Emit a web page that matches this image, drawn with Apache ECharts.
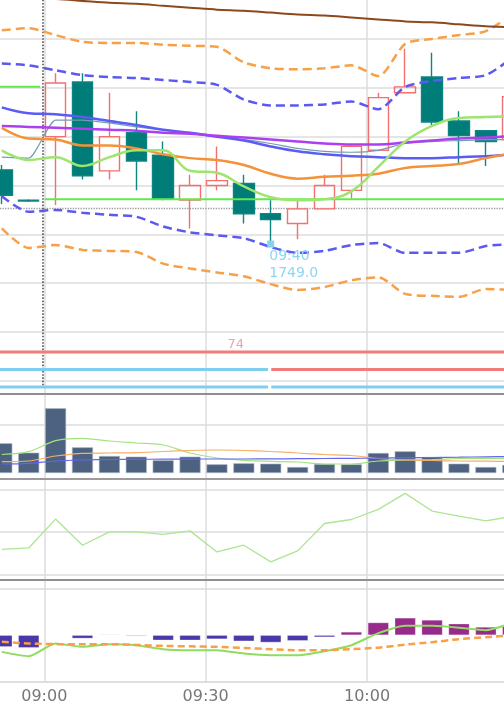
<!DOCTYPE html>
<html><head><meta charset="utf-8">
<script src="https://cdn.jsdelivr.net/npm/echarts@6/dist/echarts.min.js"></script>
<style>html,body{margin:0;padding:0;background:#fff}#c{width:504px;height:716px}</style>
</head><body><div id="c"></div>
<script>
// ---------- data ----------
const times = ['08:50','08:55','09:00','09:05','09:10','09:15','09:20','09:25','09:30','09:35','09:40','09:45','09:50','09:55','10:00','10:05','10:10','10:15','10:20','10:25'];
const open  = [1756.6,1753.5,1760.0,1765.6,1756.5,1760.4,1758.1,1753.5,1755.0,1755.2,1752.1,1751.1,1752.6,1754.5,1758.6,1764.5,1766.1,1761.6,1760.6,1759.7];
const close = [1754.0,1753.4,1765.5,1756.0,1760.0,1757.5,1753.6,1755.0,1755.5,1752.1,1751.5,1752.6,1755.0,1759.0,1764.0,1765.1,1761.5,1760.1,1759.5,1764.1];
const low   = [1753.1,1753.3,1753.0,1755.6,1755.6,1754.5,1753.5,1750.6,1754.5,1751.1,1749.0,1749.5,1752.6,1753.7,1758.5,1764.5,1761.0,1757.1,1757.0,1759.6];
const high  = [1757.1,1753.6,1766.5,1766.5,1764.5,1762.6,1759.5,1756.1,1759.0,1756.1,1753.5,1753.6,1756.1,1759.1,1764.5,1769.0,1768.6,1762.6,1760.6,1764.3];

const maLong    = [1774.4,1774.2,1774.1,1773.9,1773.7,1773.6,1773.4,1773.2,1773.0,1772.9,1772.7,1772.5,1772.4,1772.2,1772.0,1771.8,1771.7,1771.5,1771.3,1771.2];
const bbUpper2  = [1770.9,1771.1,1770.4,1769.7,1769.6,1769.6,1769.4,1769.3,1769.2,1767.6,1767.0,1766.9,1767.0,1767.3,1766.2,1769.5,1770.0,1770.4,1770.8,1772.6];
const bbUpper1  = [1767.5,1767.3,1766.8,1766.3,1766.1,1766.0,1765.8,1765.6,1765.3,1763.8,1763.2,1763.2,1763.3,1763.6,1762.8,1765.1,1765.7,1766.0,1766.3,1768.1];
const bbLower1  = [1753.9,1752.3,1752.5,1752.2,1752.0,1751.8,1750.8,1750.2,1749.9,1749.6,1748.7,1748.1,1748.3,1748.9,1749.1,1748.1,1748.1,1748.1,1748.8,1749.0];
const bbLower2  = [1750.6,1748.6,1748.9,1748.4,1748.3,1748.2,1747.0,1746.5,1746.1,1745.7,1744.9,1744.3,1744.6,1745.3,1745.6,1743.9,1743.7,1743.6,1744.4,1744.3];
const maBlue    = [1763.0,1762.4,1762.3,1762.0,1761.6,1761.2,1760.7,1760.4,1760.0,1759.6,1759.0,1758.5,1758.2,1758.0,1757.9,1757.8,1757.8,1757.9,1758.0,1758.2];
const maPurple  = [1761.1,1761.0,1760.9,1760.8,1760.7,1760.6,1760.4,1760.3,1760.1,1759.9,1759.7,1759.5,1759.3,1759.2,1759.2,1759.4,1759.6,1759.8,1759.9,1760.1];
const baseLine  = [1757.9,1757.8,1761.7,1761.7,1761.4,1761.0,1760.7,1760.3,1760.0,1759.7,1759.3,1758.8,1758.5,1758.4,1758.6,1759.3,1759.5,1759.6,1759.7,1759.7];
const maOrange  = [1760.9,1759.8,1759.7,1759.1,1759.1,1758.8,1758.2,1757.8,1757.6,1757.1,1756.2,1755.7,1755.9,1756.0,1756.2,1756.8,1757.0,1757.2,1757.8,1758.3];
const maGreen   = [1758.6,1757.6,1757.9,1757.0,1757.9,1758.6,1758.6,1756.5,1756.3,1754.9,1753.8,1753.5,1753.6,1754.4,1756.9,1759.5,1761.1,1761.9,1762.0,1762.1];

const priceTicks = [1735,1740,1745,1750,1755,1760,1765,1770];
const refPrice = 1752.7;
const sessionStart = '09:00';
const prevSessionLevel = 1765.1;
const sessionLevel = 1753.6;

const signalRow1 = ['sell'];
const signalRow2 = ['buy','sell'];
const signalRow3 = ['buy','buy'];
const signalBreak = '09:41:54';
const signalLabel = '74';
const signalLabelAt = '09:35:36';

const volume = [619,423,1348,535,354,340,265,340,181,202,194,125,188,181,417,452,333,194,125,167];
const volMaShort = [385,444,673,723,667,625,583,417,313,265,244,229,188,188,250,271,281,302,306,306];
const volMaMid   = [235,250,354,410,417,423,448,469,479,469,448,417,385,365,302,271,260,250,246,240];
const volMaLong  = [188,202,250,271,281,285,288,290,292,292,294,298,302,306,310,317,323,329,338,344];
const volTicks = [1000];

const rsi = [41.8,42.5,56.2,43.8,50.1,50.1,48.9,50.6,40.6,43.8,35.9,41.1,54.1,56.0,60.8,68.4,60.0,57.6,55.4,57.5];
const rsiTicks = [30,50,70];

const macdHist = [-0.25,-0.27,0,-0.07,0.015,-0.02,-0.11,-0.11,-0.085,-0.13,-0.156,-0.12,-0.043,0.07,0.27,0.37,0.325,0.245,0.175,0.19];
const macdLine = [-0.357,-0.449,-0.177,-0.25,-0.192,-0.214,-0.299,-0.321,-0.321,-0.391,-0.427,-0.427,-0.342,-0.214,0.043,0.203,0.199,0.16,0.107,0.267];
const macdSignal = [-0.143,-0.177,-0.192,-0.192,-0.192,-0.209,-0.229,-0.239,-0.25,-0.274,-0.299,-0.321,-0.321,-0.299,-0.267,-0.203,-0.15,-0.085,-0.043,0];
const macdTicks = [1];

// ---------- helpers ----------
function toMin(s){const p=s.split(':');return (+p[0])*60+(+p[1])+(p[2]?(+p[2])/60:0);}
function fmt(m){const h=Math.floor(m/60),mm=Math.round(m-h*60);return String(h).padStart(2,'0')+':'+String(mm).padStart(2,'0');}
const X_MIN = toMin('08:30'), X_MAX = toMin('10:30');
const CANDLE_OFFSET = 2.1;
const xs = times.map(t=>toMin(t)+CANDLE_OFFSET);
const pair = arr => arr.map((v,i)=>[xs[i],v]);
const FONT = 'DejaVu Sans';
const GRIDC = '#dcdcdc';
let minIdx = 0; low.forEach((v,i)=>{ if(v<low[minIdx]) minIdx=i; });

const L = -117.05, W = 645.4;
const G = {left:L,width:W,containLabel:false,outerBoundsMode:'none'};
const grids = [
  Object.assign({top:-9.86,height:403.86},G),
  Object.assign({top:338,height:56},G),
  Object.assign({top:394,height:85},G),
  Object.assign({top:479,height:100.5},G),
  Object.assign({top:579.5,height:102.5},G)
];
function xAx(i,extra){
  return Object.assign({type:'value',gridIndex:i,min:X_MIN,max:X_MAX,interval:30,
    axisLabel:{show:false},axisTick:{show:false},axisLine:{show:false},
    splitLine:{show:true,lineStyle:{color:GRIDC,width:1.5}}},extra||{});
}
const xAxes = [
  xAx(0,{axisLine:{show:true,onZero:false,lineStyle:{color:'#8f8f8f',width:2}}}),
  xAx(1,{show:false}),
  xAx(2,{axisLine:{show:true,onZero:false,lineStyle:{color:'#9c9c9c',width:2}}}),
  xAx(3,{axisLine:{show:true,onZero:false,lineStyle:{color:'#8f8f8f',width:2}}}),
  xAx(4,{axisLine:{show:true,onZero:false,lineStyle:{color:'#d4d4d4',width:1.5}},
    axisLabel:{show:true,formatter:v=>fmt(v),fontSize:16,fontFamily:FONT,color:'#777',margin:7}})
];
const yAxes = [
  {type:'value',gridIndex:0,min:1733.65,max:1775,show:false},
  {type:'value',gridIndex:1,min:0.6,max:3.8,show:false},
  {type:'value',gridIndex:2,min:-125,max:1646,show:false},
  {type:'value',gridIndex:3,min:27.53,max:75.22,show:false},
  {type:'value',gridIndex:4,min:-1,max:1.188,show:false}
];
function gridMarks(levels, extra){
  return {silent:true,symbol:['none','none'],z:1,animation:false,label:{show:false},
    lineStyle:{color:GRIDC,width:1.5,type:'solid'},
    data: levels.map(v=>({yAxis:v})).concat(extra||[])};
}
function line(gi,name,arr,color,width,dash,smooth,extra){
  return Object.assign({name,type:'line',xAxisIndex:gi,yAxisIndex:gi,data:pair(arr),showSymbol:false,symbol:'none',
    smooth:smooth||false,silent:true,lineStyle:{color,width,type:dash?dash:'solid'}},extra||{});
}
function seg(gi,a,b,v,color,width){
  return {type:'line',xAxisIndex:gi,yAxisIndex:gi,data:[[a,v],[b,v]],showSymbol:false,symbol:'none',silent:true,
    lineStyle:{color,width}};
}

const sepX = toMin(sessionStart)-0.37;
const series = [];

// candles
series.push({
  type:'candlestick',xAxisIndex:0,yAxisIndex:0,barWidth:21,
  data: times.map((t,i)=>[xs[i],open[i],close[i],low[i],high[i]]),
  itemStyle:{color:'rgba(255,255,255,0)',color0:'#007c79',borderColor:'#f46f6f',borderColor0:'#0f8482',borderWidth:1.4},
  markPoint:{symbol:'rect',symbolSize:7,itemStyle:{color:'#86d0f0'},
    label:{show:true,position:[2,8],align:'left',verticalAlign:'top',color:'#8fd5f3',fontSize:14,fontFamily:FONT,lineHeight:16.5,
      formatter:()=>times[minIdx]+'\n'+low[minIdx].toFixed(1)},
    data:[{type:'min',valueDim:'lowest'}]}
});

// session level steps
const s0 = toMin(sessionStart);
series.push(seg(0,X_MIN,s0-0.8,prevSessionLevel,'#62ea4c',2));
series.push(seg(0,s0+0.1,X_MAX,sessionLevel,'#62ea4c',2));

// bands and MAs
const DASH=[9,5];
series.push(line(0,'bbU2',bbUpper2,'#f7a048',2.5,DASH,0.25));
series.push(line(0,'bbL2',bbLower2,'#f7a048',2.5,DASH,0.25));
series.push(line(0,'bbU1',bbUpper1,'#5a5af2',2.5,DASH,0.25));
series.push(line(0,'bbL1',bbLower1,'#5a5af2',2.5,DASH,0.25));
series.push(line(0,'maLong',maLong,'#8b4a1c',2,null,0.3,{
  markLine: gridMarks(priceTicks,[
    {yAxis:refPrice,lineStyle:{color:'#9a9a9a',type:'dotted',width:1.3}},
    [{coord:[sepX,1775],lineStyle:{color:'#555',type:'dotted',width:1.6}},{coord:[sepX,1734.55],lineStyle:{color:'#555',type:'dotted',width:1.6}}]
  ])}));
series.push(line(0,'base',baseLine,'#6f9fb3',1.2,null,0.2));
series.push(line(0,'maBlue',maBlue,'#5b5cf3',2.5,null,0.4));
series.push(line(0,'maPurple',maPurple,'#ac3ff0',2.5,null,0.4));
series.push(line(0,'maOrange',maOrange,'#f4923a',2.5,null,0.4));
series.push(line(0,'maGreen',maGreen,'#9ee46e',2.5,null,0.4));

// signal rows
const SIG = {buy:'#7ecef0',sell:'#f27b7b'};
const br = toMin(signalBreak);
function rowSegs(states,row){
  if(states.length===1){ series.push(seg(1,X_MIN,X_MAX,row,SIG[states[0]],3)); return; }
  series.push(seg(1,X_MIN,br-0.3,row,SIG[states[0]],3));
  series.push(seg(1,br+0.3,X_MAX,row,SIG[states[1]],3));
}
rowSegs(signalRow1,3); rowSegs(signalRow2,2); rowSegs(signalRow3,1);
series.push({type:'scatter',xAxisIndex:1,yAxisIndex:1,symbolSize:1,itemStyle:{color:'rgba(0,0,0,0)'},silent:true,
  data:[[toMin(signalLabelAt),3]],
  label:{show:true,formatter:signalLabel,position:'top',distance:0,color:'#f08a8a',fontSize:13,fontFamily:FONT}});

// volume
series.push({type:'bar',xAxisIndex:2,yAxisIndex:2,barWidth:21,data:pair(volume),silent:true,
  itemStyle:{color:'#4d6280',borderColor:'#aab6c4',borderWidth:0.6},
  markLine: gridMarks(volTicks)});
series.push(line(2,'vS',volMaShort,'#a3e37f',1.2,null,0.3));
series.push(line(2,'vM',volMaMid,'#f7ae66',1.2,null,0.3));
series.push(line(2,'vL',volMaLong,'#6565f0',1.2,null,0.3));

// rsi
series.push(line(3,'rsi',rsi,'#ade592',1.3,null,false,{markLine:gridMarks(rsiTicks)}));

// macd
series.push({type:'bar',xAxisIndex:4,yAxisIndex:4,barWidth:21,silent:true,
  data: macdHist.map((v,i)=>({value:[xs[i],v],itemStyle:{color:v>=0?'#992a8d':'#4a37aa'}})),
  itemStyle:{borderColor:'rgba(255,255,255,0.5)',borderWidth:0.6},
  markLine: gridMarks(macdTicks)});
series.push(line(4,'macd',macdLine,'#8fdc5e',2,null,0.2));
series.push(line(4,'signal',macdSignal,'#f7a048',2.5,[7,4],0.2));

const chart = echarts.init(document.getElementById('c'),null,{renderer:'canvas'});
chart.setOption({animation:false,backgroundColor:'#fff',grid:grids,xAxis:xAxes,yAxis:yAxes,series});
</script></body></html>
